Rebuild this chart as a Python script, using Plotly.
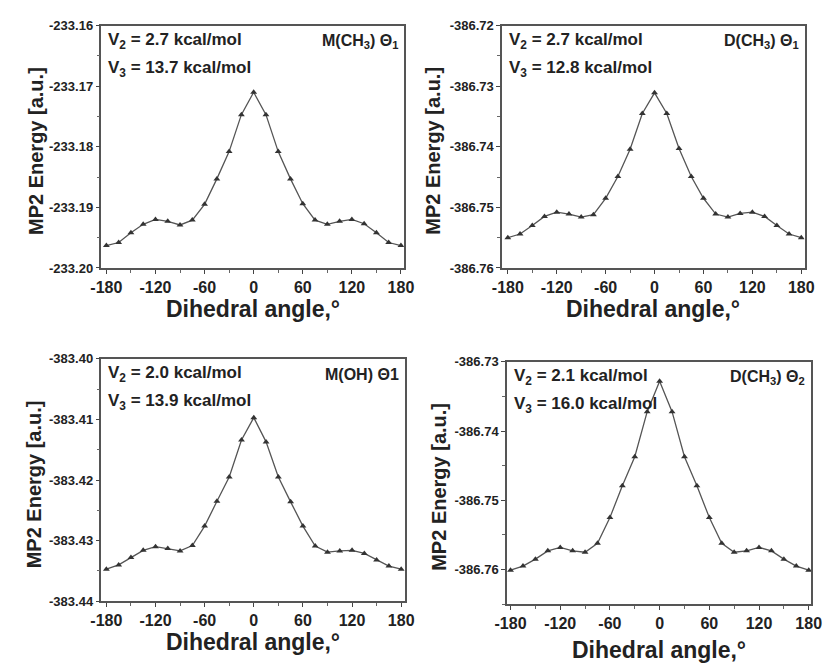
import plotly.graph_objects as go

W, H = 835, 663

angles = [-180, -165, -150, -135, -120, -105, -90, -75, -60, -45, -30, -15, 0,
          15, 30, 45, 60, 75, 90, 105, 120, 135, 150, 165, 180]

e_m_ch3_t1 = [-233.1963, -233.1958, -233.1942, -233.1928, -233.1920, -233.1923, -233.1929,
              -233.1921, -233.1895, -233.1853, -233.1808, -233.1747, -233.1710, -233.1747,
              -233.1808, -233.1853, -233.1894, -233.1921, -233.1928, -233.1923, -233.1920,
              -233.1927, -233.1942, -233.1958, -233.1963]

e_d_ch3_t1 = [-386.7550, -386.7544, -386.7530, -386.7515, -386.7508, -386.7511, -386.7516,
              -386.7512, -386.7485, -386.7449, -386.7404, -386.7345, -386.7311, -386.7345,
              -386.7403, -386.7449, -386.7485, -386.7511, -386.7516, -386.7510, -386.7508,
              -386.7515, -386.7530, -386.7544, -386.7550]

e_m_oh_t1 = [-383.4347, -383.4340, -383.4328, -383.4316, -383.4310, -383.4313, -383.4317,
             -383.4308, -383.4276, -383.4235, -383.4195, -383.4134, -383.4097, -383.4137,
             -383.4195, -383.4236, -383.4276, -383.4309, -383.4319, -383.4317, -383.4316,
             -383.4321, -383.4332, -383.4342, -383.4347]

e_d_ch3_t2 = [-386.7601, -386.7595, -386.7585, -386.7573, -386.7568, -386.7573, -386.7575,
              -386.7562, -386.7525, -386.7479, -386.7437, -386.7372, -386.7328, -386.7372,
              -386.7437, -386.7479, -386.7525, -386.7562, -386.7575, -386.7573, -386.7568,
              -386.7573, -386.7585, -386.7595, -386.7601]

v2_labels = ["2.7", "2.7", "2.0", "2.1"]
v3_labels = ["13.7", "12.8", "13.9", "16.0"]
panel_names = ["M(CH<sub>3</sub>) Θ<sub>1</sub>", "D(CH<sub>3</sub>) Θ<sub>1</sub>",
               "M(OH) Θ1", "D(CH<sub>3</sub>) Θ<sub>2</sub>"]
x_ticks = [-180, -120, -60, 0, 60, 120, 180]
y_ticks = [
    [-233.20, -233.19, -233.18, -233.17, -233.16],
    [-386.76, -386.75, -386.74, -386.73, -386.72],
    [-383.44, -383.43, -383.42, -383.41, -383.40],
    [-386.76, -386.75, -386.74, -386.73],
]

# layout: pixel boxes (left, right, top, bottom), axis ranges
boxes = [(92, 403, 19, 267), (504, 815, 19, 267), (92, 404, 360, 608), (509, 822, 363, 611)]
xranges = [[-186, 183.6], [-187, 184], [-186, 184.5], [-184.3, 183.2]]
yranges = [[-233.20, -233.16], [-386.76, -386.72], [-383.44, -383.40], [-386.765, -386.73]]
series = [e_m_ch3_t1, e_d_ch3_t1, e_m_oh_t1, e_d_ch3_t2]
xtitle_y = [309, 309, 650, 658]
ytitle_x = [24, 433, 23, 439]

FONT = "Liberation Sans, Arial, sans-serif"
INK = "#222222"
LINE = "#555555"

fig = go.Figure()
annotations = []
for i in range(4):
    l, r, t, b = boxes[i]
    xa = "x" if i == 0 else f"x{i+1}"
    ya = "y" if i == 0 else f"y{i+1}"
    fig.add_trace(go.Scatter(
        x=angles, y=series[i], mode="lines+markers", xaxis=xa, yaxis=ya,
        line=dict(color=LINE, width=1.3),
        marker=dict(symbol="triangle-up", size=6, color="#333333"),
        showlegend=False, hoverinfo="skip"))
    xkey = "xaxis" if i == 0 else f"xaxis{i+1}"
    ykey = "yaxis" if i == 0 else f"yaxis{i+1}"
    fig.layout[xkey] = dict(
        domain=[l / W, r / W], anchor=ya, range=xranges[i],
        tickvals=x_ticks, ticktext=[f"<b>{v}</b>" for v in x_ticks],
        ticks="outside", ticklen=4, tickwidth=1, tickcolor="#444",
        minor=dict(ticks="outside", tickvals=[-150, -90, -30, 30, 90, 150], ticklen=3, tickcolor="#666"),
        showline=True, linecolor="#555", linewidth=1.5, mirror=True,
        showgrid=False, zeroline=False,
        tickfont=dict(family=FONT, size=16, color=INK))
    fig.layout[ykey] = dict(
        domain=[1 - b / H, 1 - t / H], anchor=xa, range=yranges[i],
        tickvals=y_ticks[i], ticktext=[f"<b>{v:.2f}</b>" for v in y_ticks[i]],
        ticks="outside", ticklen=4, tickwidth=1, tickcolor="#444",
        minor=dict(ticks="outside", dtick=0.005, tick0=y_ticks[i][0], ticklen=3, tickcolor="#666"),
        showline=True, linecolor="#555", linewidth=1.5, mirror=True,
        showgrid=False, zeroline=False,
        tickfont=dict(family=FONT, size=13, color=INK))
    # in-plot annotations
    annotations.append(dict(
        x=(l + 5) / W, y=1 - (t + 16) / H, xref="paper", yref="paper",
        xanchor="left", yanchor="middle", showarrow=False,
        text=f"<b>V<sub>2</sub> = {v2_labels[i]} kcal/mol</b>",
        font=dict(family=FONT, size=17, color=INK)))
    annotations.append(dict(
        x=(l + 5) / W, y=1 - (t + 44) / H, xref="paper", yref="paper",
        xanchor="left", yanchor="middle", showarrow=False,
        text=f"<b>V<sub>3</sub> = {v3_labels[i]} kcal/mol</b>",
        font=dict(family=FONT, size=17, color=INK)))
    annotations.append(dict(
        x=(r - 4) / W, y=1 - (t + 16) / H, xref="paper", yref="paper",
        xanchor="right", yanchor="middle", showarrow=False,
        text=f"<b>{panel_names[i]}</b>",
        font=dict(family=FONT, size=16, color=INK)))
    # axis titles
    annotations.append(dict(
        x=((l + r) / 2) / W, y=1 - xtitle_y[i] / H, xref="paper", yref="paper",
        xanchor="center", yanchor="middle", showarrow=False,
        text="<b>Dihedral angle,°</b>",
        font=dict(family=FONT, size=23, color=INK)))
    annotations.append(dict(
        x=ytitle_x[i] / W, y=1 - ((t + b) / 2 + 4) / H, xref="paper", yref="paper",
        xanchor="center", yanchor="middle", showarrow=False, textangle=-90,
        text="<b>MP2 Energy [a.u.]</b>",
        font=dict(family=FONT, size=20, color=INK)))

fig.update_layout(
    width=W, height=H, margin=dict(l=0, r=0, t=0, b=0),
    paper_bgcolor="white", plot_bgcolor="white",
    annotations=annotations)

fig.write_html("out.html")
